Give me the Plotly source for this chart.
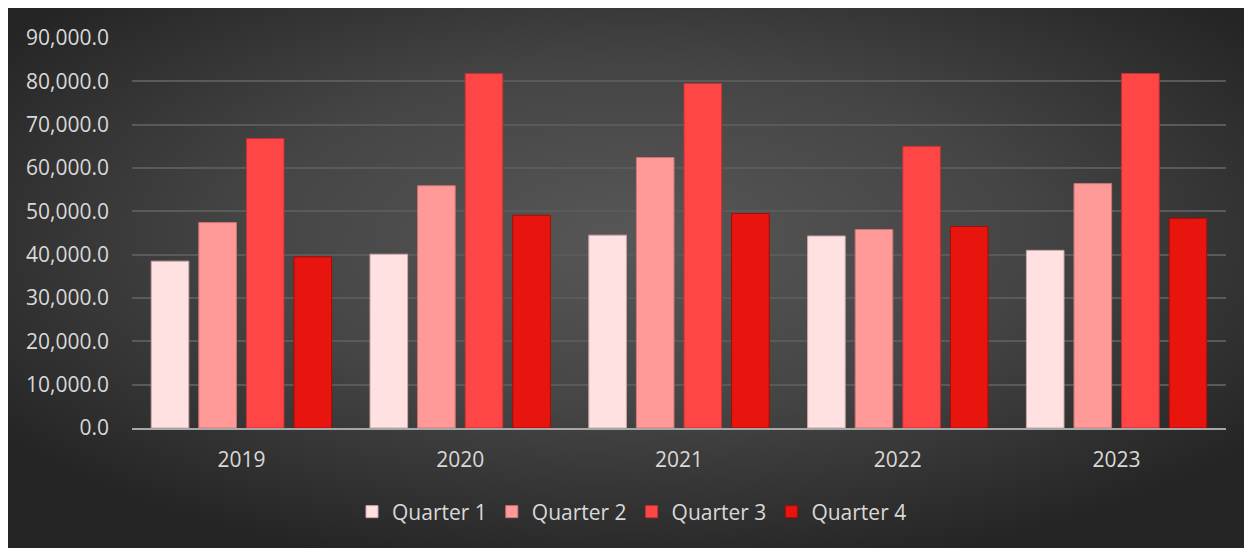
import base64
import plotly.graph_objects as go

years = ["2019", "2020", "2021", "2022", "2023"]
series_names = ["Quarter 1", "Quarter 2", "Quarter 3", "Quarter 4"]
q1 = [38500, 40100, 44500, 44300, 41000]
q2 = [47400, 55900, 62400, 45800, 56400]
q3 = [66800, 81800, 79500, 65000, 81800]
q4 = [39500, 49100, 49500, 46500, 48400]
series_values = [q1, q2, q3, q4]

fill_colors = ["#FFE1E1", "#FF9A98", "#FF4646", "#E8140E"]
edge_colors = ["#C9A8A8", "#CF7774", "#C43232", "#A40C08"]

W, H = 1252, 548
L, R, T, B = 124, 34, 30, 128
pw, ph = W - L - R, H - T - B

fig = go.Figure()
for name, vals, fc, ec in zip(series_names, series_values, fill_colors, edge_colors):
    fig.add_trace(go.Bar(
        x=years, y=vals, name=name,
        marker=dict(color=fc, line=dict(color=ec, width=1)),
    ))

svg = (
    '<svg xmlns="http://www.w3.org/2000/svg" width="1252" height="548" viewBox="0 0 1252 548" preserveAspectRatio="none">'
    '<defs><radialGradient id="g" cx="0.5" cy="0.42" r="0.62">'
    '<stop offset="0" stop-color="#575757"/>'
    '<stop offset="0.5" stop-color="#454545"/>'
    '<stop offset="1" stop-color="#252525"/>'
    '</radialGradient></defs>'
    '<rect x="0" y="0" width="1252" height="548" fill="url(#g)"/></svg>'
)
src = "data:image/svg+xml;base64," + base64.b64encode(svg.encode()).decode()

fig.add_layout_image(
    source=src, xref="paper", yref="paper",
    x=-L / pw, y=1 + T / ph,
    sizex=W / pw, sizey=H / ph,
    xanchor="left", yanchor="top", sizing="stretch", layer="below",
)

font_family = "Open Sans, Noto Sans, sans-serif"
fig.update_layout(
    width=W, height=H,
    margin=dict(l=L, r=R, t=T, b=B, autoexpand=False),
    paper_bgcolor="#333333",
    plot_bgcolor="rgba(0,0,0,0)",
    barmode="group", bargap=0.13, bargroupgap=0.21,
    font=dict(family=font_family, color="#D9D9D9", size=21),
    showlegend=True,
    legend=dict(
        orientation="h", x=(624 - L) / pw, xanchor="center",
        y=(T + ph - 504) / ph, yanchor="middle",
        font=dict(size=21, color="#D9D9D9"),
        bgcolor="rgba(0,0,0,0)",
    ),
    xaxis=dict(
        showline=True, linecolor="#A6A6A6", linewidth=2,
        ticks="", showgrid=False, ticklabelstandoff=12,
        tickfont=dict(size=21, color="#D9D9D9"),
    ),
    yaxis=dict(
        range=[0, 90000], dtick=10000, tickformat=",.1f",
        showgrid=True, gridcolor="#5A5A5A", gridwidth=1.5,
        zeroline=False, showline=False, ticks="",
        ticklabelstandoff=22,
        tickfont=dict(size=21, color="#D9D9D9"),
    ),
)

fig.write_html("out.html")
